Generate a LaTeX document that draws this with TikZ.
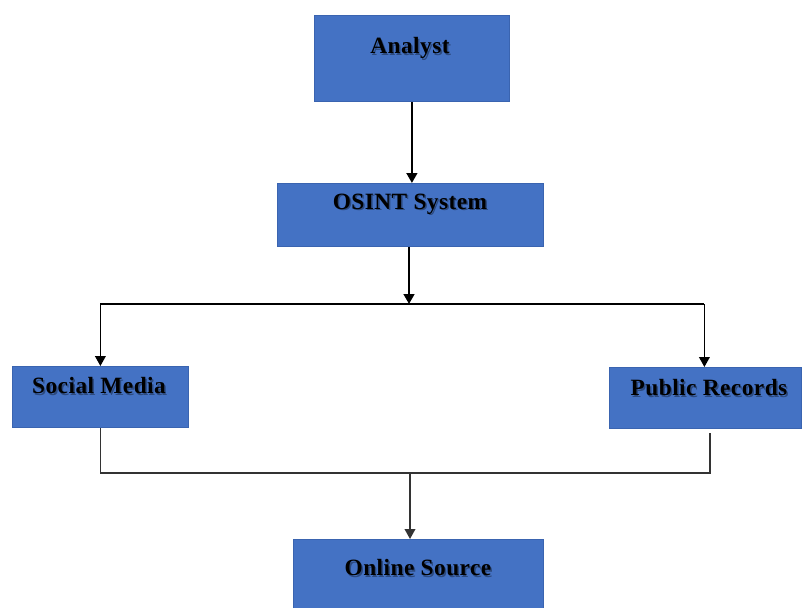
\documentclass[tikz,border=0pt]{standalone}
\usepackage{fontspec}
\setmainfont{Liberation Serif}[LetterSpace=2]
\usetikzlibrary{arrows.meta}
\definecolor{boxfill}{HTML}{4472C4}
\definecolor{boxedge}{HTML}{3A64B0}
\definecolor{thinline}{HTML}{333333}
\begin{document}
\begin{tikzpicture}[x=0.75pt,y=-0.75pt,
  box/.style={draw=boxedge, fill=boxfill, line width=0.6pt, rectangle,
    inner sep=0pt, anchor=north west},
  lbl/.style={font=\bfseries\fontsize{17.5}{20}\selectfont, text=black, inner sep=0pt},
  shade/.style={font=\bfseries\fontsize{17.5}{20}\selectfont, text=black,
    opacity=0.35, inner sep=0pt},
  tip/.style={-{Triangle[length=7.5pt,width=8pt]}},
  thick link/.style={draw=black, line width=1.8pt},
  mid link/.style={draw=black, line width=1.3pt},
  thin link/.style={draw=thinline, line width=1.1pt}
]
\useasboundingbox (0,0) rectangle (802,607);
\begin{scope}
\clip (0,0) rectangle (802,607);

% boxes
\node[box, minimum width=146.25pt, minimum height=64.5pt] (analyst) at (314,15) {};
\node[box, minimum width=199.5pt, minimum height=47.25pt] (osint) at (277,183) {};
\node[box, minimum width=132pt, minimum height=45.75pt] (social) at (12,366) {};
\node[box, minimum width=144pt, minimum height=45.75pt] (public) at (609,367) {};
\node[box, minimum width=187.5pt, minimum height=60.75pt] (online) at (293,539) {};

% labels with a soft drop shadow
\foreach \name/\px/\py/\txt in {tA/410/48/Analyst, tO/410/204/OSINT System,
    tS/99/386/Social Media, tP/709/388/Public Records, tN/418/568/Online Source}{
  \node[shade] at (\px+1.5,\py+1.5) {\txt};
  \node[lbl] (\name) at (\px,\py) {\txt};
}

% junction points
\coordinate (split) at (409,304);
\coordinate (join) at (410,473);
\coordinate (prout) at (710,433);
\coordinate (busL) at (social.north |- split);
\coordinate (busR) at ([xshift=-0.75pt]public.north |- split);

% upper connectors
\draw[thick link, tip] (analyst.south) -- (analyst.south |- osint.north);
\draw[thick link, tip] (split |- osint.south) -- (split);
\draw[thick link] (busL) -- (busR);
\draw[mid link, tip] (busL) -- (social.north);
\draw[mid link, tip] (busR) -- ([xshift=-0.75pt]public.north);

% lower connectors
\draw[thin link] (social.south) |- (join);
\draw[thin link] (prout) |- (join);
\draw[thin link, tip] (join) -- (join |- online.north);
\end{scope}
\end{tikzpicture}
\end{document}
